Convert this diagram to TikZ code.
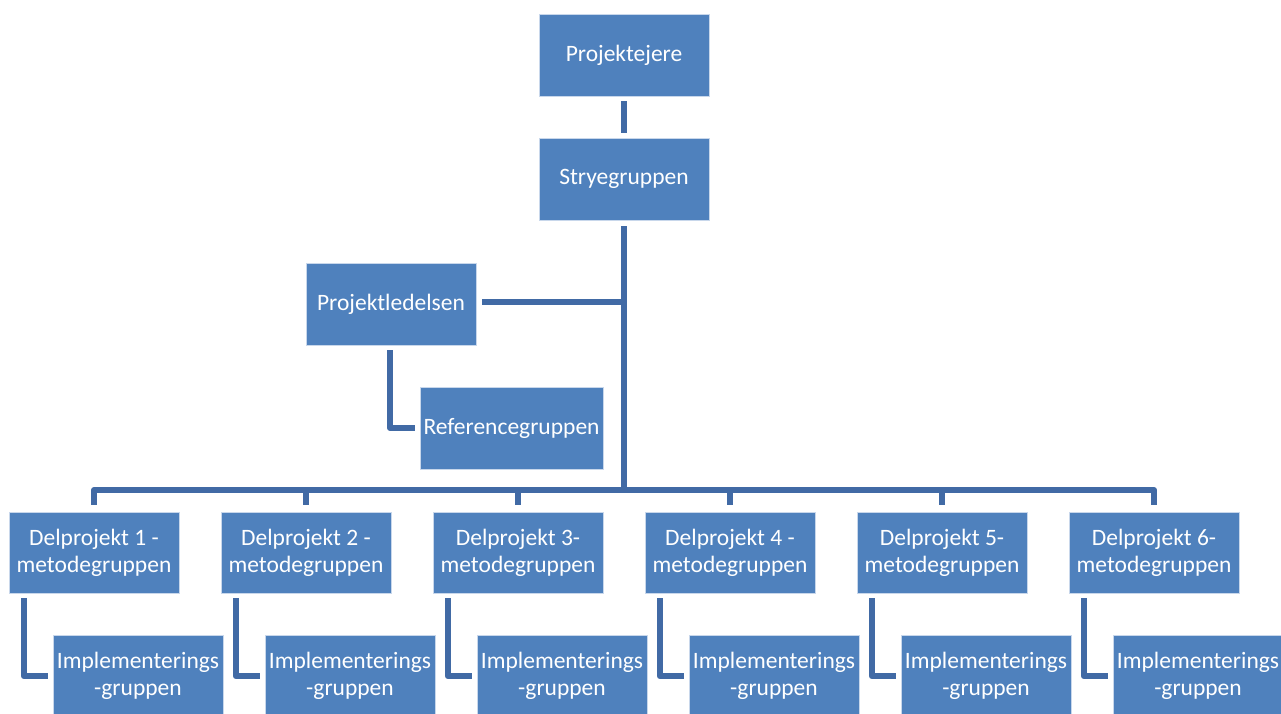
\documentclass[tikz,border=0pt]{standalone}
\usepackage{fontspec}
\setmainfont{Carlito}
\definecolor{boxfill}{RGB}{79,129,189}
\definecolor{boxedge}{RGB}{200,215,235}
\definecolor{connblue}{RGB}{65,106,165}
\begin{document}
\begin{tikzpicture}[x=1pt,y=-1pt,
  orgbox/.style={rectangle, fill=boxfill, draw=boxedge, line width=0.6pt, text=white,
    minimum width=170pt, minimum height=82pt, inner sep=2pt, align=center,
    font=\fontsize{23.5}{27}\selectfont},
  conn/.style={draw=connblue, line width=6pt, line join=round}]
\useasboundingbox (0,0) rectangle (1281,713);
\node[orgbox] (pe) at (624,55) {Projektejere};
\node[orgbox] (sg) at (624,179) {Stryegruppen};
\node[orgbox] (pl) at (391,304) {Projektledelsen};
\node[orgbox, minimum width=183pt] (rg) at (511.5,428) {Referencegruppen};
\foreach \i/\t in {1/{Delprojekt 1 -},2/{Delprojekt 2 -},3/{Delprojekt 3-},4/{Delprojekt 4 -},5/{Delprojekt 5-},6/{Delprojekt 6-}}{
  \node[orgbox, minimum height=81pt] (d\i) at ({94+212*(\i-1)},552.5) {\t\\metodegruppen};
  \node[orgbox] (m\i) at ({138+212*(\i-1)},676) {Implementerings\\-gruppen};
  \draw[conn] ([xshift=15pt,yshift=-5pt]d\i.south west) |- ([xshift=-5pt]m\i.west);
}
\coordinate (bus) at (624,490);
\coordinate (plj) at (624,302);
\draw[conn] ([yshift=-5pt]pe.south) -- ([yshift=5pt]sg.north);
\draw[conn] ([yshift=-6pt]sg.south) -- (bus);
\draw[conn] ([xshift=6pt,yshift=2pt]pl.east) -- (plj);
\draw[conn] ([xshift=-1pt,yshift=-5pt]pl.south) |- ([xshift=-5pt]rg.west);
\draw[conn] ([yshift=7pt]d1.north) |- (bus) -| ([yshift=7pt]d6.north);
\foreach \i in {2,3,4,5}{
  \draw[conn] ([yshift=7pt]d\i.north) -- ([yshift=22pt]d\i.north);
}
\end{tikzpicture}
\end{document}
